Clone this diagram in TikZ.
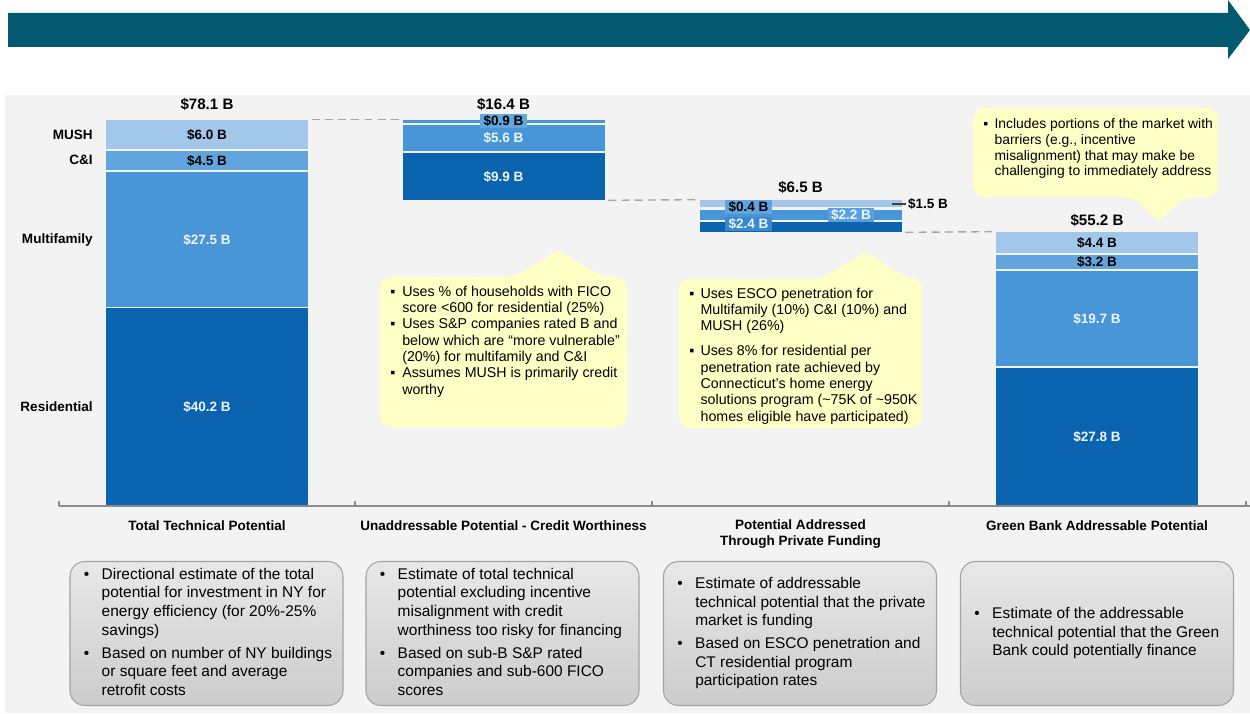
\documentclass[tikz,border=0pt]{standalone}
\usepackage{fontspec}
\setmainfont{Liberation Sans}
\usepackage{tikz}
\usetikzlibrary{positioning}

\definecolor{arrowteal}{HTML}{03596F}
\definecolor{panelgray}{HTML}{F3F3F3}
\definecolor{mushblue}{HTML}{A2C7EA}
\definecolor{cniblue}{HTML}{62A5DE}
\definecolor{multiblue}{HTML}{4896D8}
\definecolor{resiblue}{HTML}{0A63AE}
\definecolor{noteyellow}{HTML}{FFFFC6}
\definecolor{boxedge}{HTML}{A3A3A3}
\definecolor{leadgray}{HTML}{A6A6A6}
\definecolor{axisgray}{HTML}{8C8C8C}
\definecolor{lighttext}{HTML}{EEF5FC}

\newcommand{\pxu}{0.02cm}

\tikzset{
  slice/.style={rectangle, inner sep=0pt, minimum width=202*\pxu, font=\fontsize{7.7}{9}\selectfont\bfseries},
  chip/.style={rectangle, inner xsep=2pt, inner ysep=0.6pt, font=\fontsize{7.7}{9}\selectfont\bfseries},
  total/.style={inner sep=1pt, font=\fontsize{8.6}{10}\selectfont\bfseries},
  rowlabel/.style={anchor=east, inner sep=0pt, font=\fontsize{7.7}{9}\selectfont\bfseries},
  catlabel/.style={inner sep=0pt, align=center, font=\fontsize{7.7}{9.6}\selectfont\bfseries},
  leader/.style={draw=leadgray, line width=0.8pt, dash pattern=on 4.5pt off 3pt, shorten <=2pt, shorten >=2pt},
  callout/.style={fill=noteyellow, rounded corners=0.22cm},
  notetext/.style={anchor=base west, inner sep=0pt, font=\fontsize{8.1}{9.3}\selectfont},
  notebox/.style={draw=boxedge, line width=0.6pt, rounded corners=0.3cm, top color=black!9, bottom color=black!20,
    minimum width=273*\pxu, minimum height=144*\pxu},
  boxtext/.style={inner sep=0pt, font=\fontsize{8.8}{10.6}\selectfont},
  axis/.style={draw=axisgray, line width=0.6pt}
}

\begin{document}
\begin{tikzpicture}[x=\pxu, y=-\pxu]
\useasboundingbox (0,0) rectangle (1250,713);
\fill[panelgray] (5,95) rectangle (1250,713);
\fill[arrowteal] (8,13) -- (1228,13) -- (1228,0) -- (1250,30) -- (1228,59) -- (1228,47) -- (8,47) -- cycle;

% total technical potential
\node[total] (tp-total) at (207,104) {\$78.1 B};
\node[slice, fill=mushblue, minimum height=29*\pxu] (tp-mush) at (207,134.5) {\$6.0 B};
\node[slice, fill=cniblue, minimum height=19*\pxu] (tp-cni) at (207,160.5) {\$4.5 B};
\node[slice, fill=multiblue, text=lighttext, minimum height=135*\pxu] (tp-multi) at (207,239.5) {\$27.5 B};
\node[slice, fill=resiblue, text=lighttext, minimum height=197*\pxu] (tp-resi) at (207,406.5) {\$40.2 B};

\node[rowlabel] (lbl-mush) at (93,135) {MUSH};
\node[rowlabel] (lbl-cni) at (93,160) {C\&I};
\node[rowlabel] (lbl-multi) at (93,240) {Multifamily};
\node[rowlabel] (lbl-resi) at (93,407) {Residential};

% credit worthiness
\node[total] (ua-total) at (503.5,104) {\$16.4 B};
\node[slice, fill=multiblue, minimum height=3*\pxu] (ua-top) at (503.5,121.5) {};
\node[slice, fill=multiblue, text=lighttext, minimum height=26*\pxu] (ua-multi) at (503.5,138) {\$5.6 B};
\node[slice, fill=resiblue, text=lighttext, minimum height=47*\pxu] (ua-resi) at (503.5,176.5) {\$9.9 B};
\node[chip, fill=multiblue!85!white] (ua-top-lbl) at (503.5,121) {\$0.9 B};

% private funding
\node[total] (pf-total) at (800.5,187) {\$6.5 B};
\node[slice, fill=mushblue, minimum height=7*\pxu] (pf-mush) at (800.5,203.5) {};
\node[slice, fill=multiblue, minimum height=10*\pxu] (pf-multi) at (800.5,215) {};
\node[slice, fill=resiblue, minimum height=10*\pxu] (pf-resi) at (800.5,227) {};
\node[chip, fill=cniblue] (pf-cni-lbl) at (748.5,207) {\$0.4 B};
\node[chip, fill=multiblue!75!resiblue, text=lighttext] (pf-resi-lbl) at (748.5,224) {\$2.4 B};
\node[chip, fill=multiblue!90!white, text=lighttext] (pf-multi-lbl) at (851,215) {\$2.2 B};
\node[total, anchor=west, font=\fontsize{7.7}{9}\selectfont\bfseries] (pf-mush-lbl) at (906,204) {\$1.5 B};
\coordinate (pf-mush-tick) at (892,204);
\draw[black!75, line width=0.7pt] (pf-mush-tick) -- (pf-mush-lbl.west);

% green bank
\node[total] (gb-total) at (1097,220) {\$55.2 B};
\node[slice, fill=mushblue, minimum height=21*\pxu] (gb-mush) at (1097,242.5) {\$4.4 B};
\node[slice, fill=cniblue, minimum height=14*\pxu] (gb-cni) at (1097,262) {\$3.2 B};
\node[slice, fill=multiblue, text=lighttext, minimum height=95*\pxu] (gb-multi) at (1097,318.5) {\$19.7 B};
\node[slice, fill=resiblue, text=lighttext, minimum height=137*\pxu] (gb-resi) at (1097,436.5) {\$27.8 B};

\draw[leader] (tp-mush.north east) -- (ua-top.north west);
\draw[leader] (ua-resi.south east) -- (pf-mush.north west);
\draw[leader] (pf-resi.south east) -- (gb-mush.north west);

% axis
\draw[axis] (59,506) -- (1250,506);
\foreach \x in {59,355,652,949,1246}
  \draw[axis] (\x,506) -- (\x,501);
\node[catlabel] (tp-cat) at (207,526) {Total Technical Potential};
\node[catlabel] (ua-cat) at (503.5,526) {Unaddressable Potential - Credit Worthiness};
\node[catlabel] (pf-cat) at (800.5,534) {Potential Addressed\\Through Private Funding};
\node[catlabel] (gb-cat) at (1097,526) {Green Bank Addressable Potential};

% callouts
\fill[callout] (380,277) -- (515,277) [rounded corners=0.06cm]-- (558,250) [rounded corners=0.22cm]-- (602,277) -- (627,277) -- (627,427) -- (380,427) -- cycle;
\node[notetext] (ua-note) at (390,296) {\begin{tabular}[t]{@{}p{6.8pt}@{}l@{}}
▪ & Uses \% of households with FICO\\
  & score <600 for residential (25\%)\\
▪ & Uses S\&P companies rated B and\\
  & below which are “more vulnerable”\\
  & (20\%) for multifamily and C\&I\\
▪ & Assumes MUSH is primarily credit\\
  & worthy
\end{tabular}};

\fill[callout] (679,279) -- (821,279) [rounded corners=0.06cm]-- (866,252) [rounded corners=0.22cm]-- (908,279) -- (922,279) -- (922,428) -- (679,428) -- cycle;
\node[notetext] (pf-note) at (689,298) {\begin{tabular}[t]{@{}p{6.4pt}@{}l@{}}
▪ & Uses ESCO penetration for\\
  & Multifamily (10\%) C\&I (10\%) and\\
  & MUSH (26\%)\\[5pt]
▪ & Uses 8\% for residential per\\
  & penetration rate achieved by\\
  & Connecticut's home energy\\
  & solutions program (\textasciitilde75K of \textasciitilde950K\\
  & homes eligible have participated)
\end{tabular}};

\fill[callout] (973,108) -- (1218,108) -- (1218,197) -- (1185,197) [rounded corners=0.06cm]-- (1158,222) [rounded corners=0.22cm]-- (1135,197) -- (973,197) -- cycle;
\node[notetext, font=\fontsize{7.9}{8.9}\selectfont] (gb-note) at (983,129) {\begin{tabular}[t]{@{}p{6.4pt}@{}l@{}}
▪ & Includes portions of the market with\\
  & barriers (e.g., incentive\\
  & misalignment) that may make be\\
  & challenging to immediately address
\end{tabular}};

% bottom notes
\node[notebox] (tp-box) at (206.5,633.5) {};
\node[boxtext, right=0.28cm of tp-box.west] (tp-boxtext) {\begin{tabular}{@{}p{10.2pt}@{}l@{}}
• & Directional estimate of the total\\
  & potential for investment in NY for\\
  & energy efficiency (for 20\%-25\%\\
  & savings)\\[2.5pt]
• & Based on number of NY buildings\\
  & or square feet and average\\
  & retrofit costs
\end{tabular}};

\node[notebox] (ua-box) at (502.5,633.5) {};
\node[boxtext, right=0.28cm of ua-box.west] (ua-boxtext) {\begin{tabular}{@{}p{10.2pt}@{}l@{}}
• & Estimate of total technical\\
  & potential excluding incentive\\
  & misalignment with credit\\
  & worthiness too risky for financing\\[2.5pt]
• & Based on sub-B S\&P rated\\
  & companies and sub-600 FICO\\
  & scores
\end{tabular}};

\node[notebox] (pf-box) at (800,633.5) {};
\node[boxtext, right=0.28cm of pf-box.west] (pf-boxtext) {\begin{tabular}{@{}p{10.2pt}@{}l@{}}
• & Estimate of addressable\\
  & technical potential that the private\\
  & market is funding\\[2.5pt]
• & Based on ESCO penetration and\\
  & CT residential program\\
  & participation rates
\end{tabular}};

\node[notebox] (gb-box) at (1097,633.5) {};
\node[boxtext, right=0.28cm of gb-box.west] (gb-boxtext) {\begin{tabular}{@{}p{10.2pt}@{}l@{}}
• & Estimate of the addressable\\
  & technical potential that the Green\\
  & Bank could potentially finance
\end{tabular}};
\end{tikzpicture}
\end{document}
